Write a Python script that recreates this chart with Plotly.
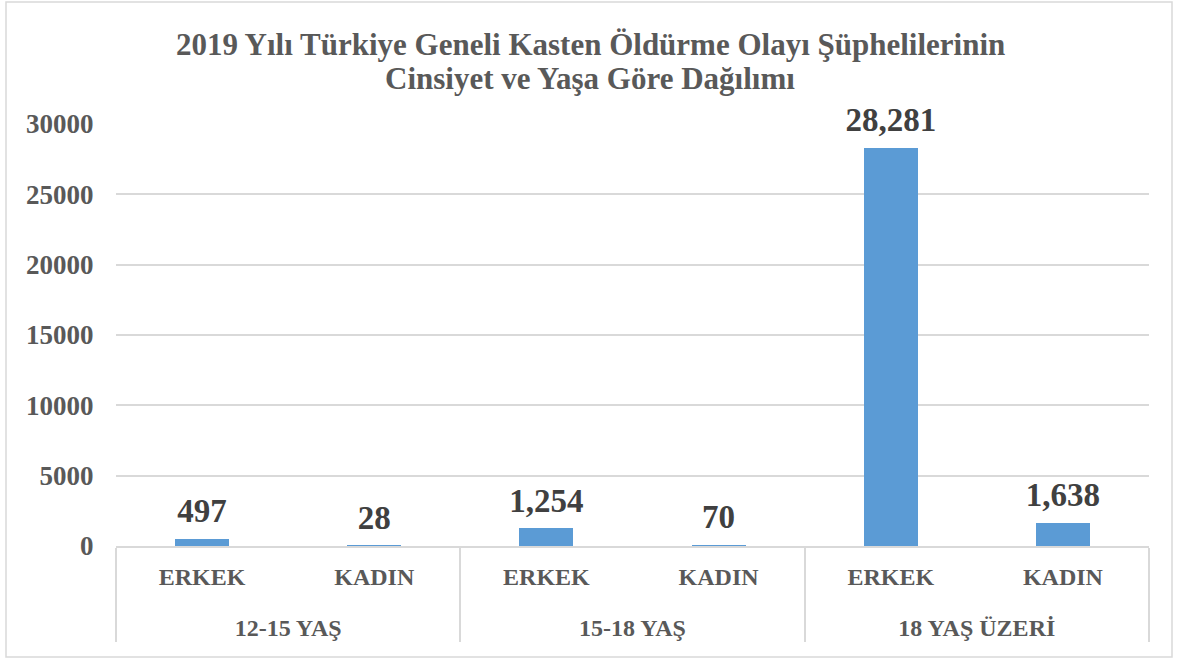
import plotly.graph_objects as go

groups = ["12-15 YAŞ", "12-15 YAŞ", "15-18 YAŞ", "15-18 YAŞ", "18 YAŞ ÜZERİ", "18 YAŞ ÜZERİ"]
genders = ["ERKEK", "KADIN", "ERKEK", "KADIN", "ERKEK", "KADIN"]
values = [497, 28, 1254, 70, 28281, 1638]
y_ticks = [0, 5000, 10000, 15000, 20000, 25000, 30000]
title_lines = ["2019 Yılı Türkiye Geneli Kasten Öldürme Olayı Şüphelilerinin",
               "Cinsiyet ve Yaşa Göre Dağılımı"]

W, H = 1178, 659
L, R, T, B = 116, 29, 124, 113
FONT = "Liberation Serif"

# group labels are pushed one line down to match the reference spacing
group_labels = ["<br>" + g for g in groups]

fig = go.Figure()
fig.add_trace(go.Bar(
    x=[group_labels, genders], y=values,
    marker=dict(color="#5B9BD5", line=dict(width=0)),
    width=0.314, hoverinfo="skip",
))
fig.add_trace(go.Scatter(
    x=[group_labels, genders], y=values,
    mode="markers+text",
    text=[f"{v:,}" for v in values],
    textposition="top center",
    marker=dict(size=12, opacity=0),
    textfont=dict(family=FONT, size=33, color="#404040", weight="bold"),
    cliponaxis=False,
    hoverinfo="skip",
))

pw = W - L - R
ph = H - T - B
def px2x(p): return (p - L) / pw
def py2y(p): return (H - B - p) / ph

fig.add_shape(type="rect", xref="paper", yref="paper",
              x0=px2x(6), x1=px2x(1172), y0=py2y(657), y1=py2y(2),
              line=dict(color="#D9D9D9", width=1.5), layer="below")

for line, cy in zip(title_lines, [44, 78]):
    fig.add_annotation(
        text=line, xref="paper", yref="paper",
        x=px2x(590), y=py2y(cy), xanchor="center", yanchor="middle",
        showarrow=False,
        font=dict(family=FONT, size=31, color="#595959", weight="bold"),
    )

fig.update_layout(
    width=W, height=H,
    margin=dict(l=L, r=R, t=T, b=B),
    paper_bgcolor="white", plot_bgcolor="white",
    showlegend=False,
    bargap=0,
    xaxis=dict(
        type="multicategory",
        showline=True, linecolor="#D9D9D9", linewidth=1.5,
        showdividers=True, dividercolor="#D9D9D9", dividerwidth=1.5,
        ticklabelstandoff=8,
        tickfont=dict(family=FONT, size=24, color="#595959", weight="bold"),
        showgrid=False, zeroline=False,
    ),
    yaxis=dict(
        range=[0, 30000], tickvals=y_ticks, ticktext=[str(t) for t in y_ticks],
        showgrid=True, gridcolor="#D9D9D9", gridwidth=1.5,
        zeroline=False, showline=False,
        ticks="outside", ticklen=16, tickcolor="rgba(0,0,0,0)",
        tickfont=dict(family=FONT, size=27, color="#595959", weight="bold"),
    ),
)

fig.write_html("out.html", config={"displayModeBar": False},
               post_script="document.body.style.margin='0';")
